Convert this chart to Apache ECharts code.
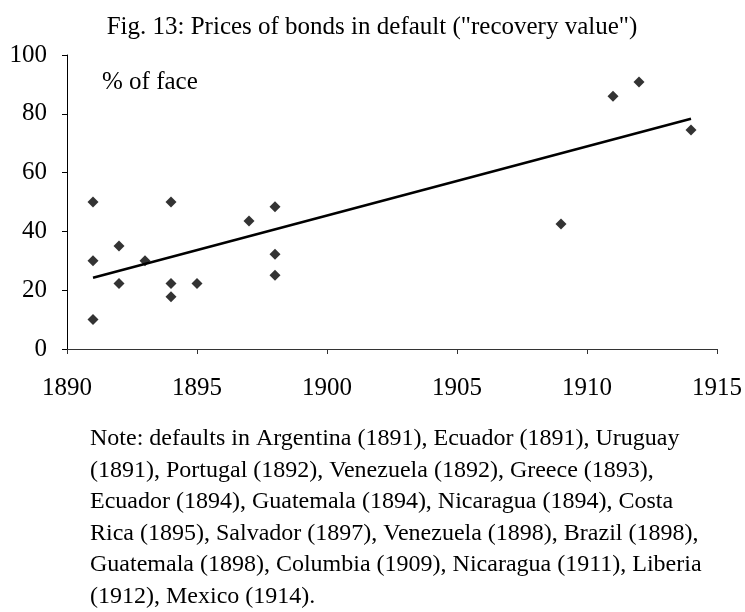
<!DOCTYPE html>
<html>
<head>
<meta charset="utf-8">
<script src="https://cdn.jsdelivr.net/npm/echarts@6/dist/echarts.min.js"></script>
<style>
  html, body { margin: 0; padding: 0; background: #fff; }
  #chart { width: 745px; height: 612px; }
</style>
</head>
<body>
<div id="chart"></div>
<script>
// default years and recovery prices (% of face)
var years = [1891, 1891, 1891, 1892, 1892, 1893, 1894, 1894, 1894, 1895, 1897, 1898, 1898, 1898, 1909, 1911, 1912, 1914];
var prices = [50, 30, 10, 35, 22.3, 30, 50, 22.3, 17.8, 22.3, 43.5, 48.4, 32.2, 25.1, 42.5, 86, 90.8, 74.5];
var xTicks = [1890, 1895, 1900, 1905, 1910, 1915];
var yTicks = [0, 20, 40, 60, 80, 100];
var noteLines = [
    'Note: defaults in Argentina (1891), Ecuador (1891), Uruguay',
    '(1891), Portugal (1892), Venezuela (1892), Greece (1893),',
    'Ecuador (1894), Guatemala (1894), Nicaragua (1894), Costa',
    'Rica (1895), Salvador (1897), Venezuela (1898), Brazil (1898),',
    'Guatemala (1898), Columbia (1909), Nicaragua (1911), Liberia',
    '(1912), Mexico (1914).'
];

var points = years.map(function (y, i) { return [y, prices[i]]; });

// least squares trend line over the observed range
function trend(xs, ys) {
    var n = xs.length, mx = 0, my = 0, sxx = 0, sxy = 0;
    for (var i = 0; i < n; i++) { mx += xs[i]; my += ys[i]; }
    mx /= n; my /= n;
    for (var j = 0; j < n; j++) {
        sxx += (xs[j] - mx) * (xs[j] - mx);
        sxy += (xs[j] - mx) * (ys[j] - my);
    }
    var b = sxy / sxx, a = my - b * mx;
    var x0 = Math.min.apply(null, xs), x1 = Math.max.apply(null, xs);
    return [[x0, a + b * x0], [x1, a + b * x1]];
}

var font = 'Liberation Serif';
var chart = echarts.init(document.getElementById('chart'));

chart.setOption({
    animation: false,
    title: {
        text: 'Fig. 13: Prices of bonds in default ("recovery value")',
        left: 367,
        textAlign: 'center',
        top: 10,
        textStyle: { fontFamily: font, fontSize: 25, fontWeight: 'normal', color: '#000' }
    },
    grid: { left: 67, right: 28, top: 55, bottom: 263 },
    xAxis: {
        type: 'value',
        min: xTicks[0],
        max: xTicks[xTicks.length - 1],
        interval: 5,
        axisLine: { lineStyle: { color: '#333', width: 1 } },
        axisTick: { length: 5, lineStyle: { color: '#333' } },
        splitLine: { show: false },
        axisLabel: {
            margin: 27, fontFamily: font, fontSize: 25, color: '#000',
            formatter: function (v) { return String(v); }
        }
    },
    yAxis: {
        type: 'value',
        min: yTicks[0],
        max: yTicks[yTicks.length - 1],
        interval: 20,
        axisLine: { show: true, lineStyle: { color: '#000', width: 1 } },
        axisTick: { show: true, length: 5, lineStyle: { color: '#000' } },
        splitLine: { show: false },
        axisLabel: { margin: 20, fontFamily: font, fontSize: 25, color: '#000' }
    },
    graphic: [
        {
            type: 'text', left: 102, top: 70,
            style: { text: '% of face', font: '25px "Liberation Serif"', fill: '#000' }
        },
        {
            type: 'text', left: 90, top: 423,
            style: { text: noteLines.join('\n'), font: '24px "Liberation Serif"', lineHeight: 31.5, fill: '#000' }
        }
    ],
    series: [
        {
            type: 'line',
            data: trend(years, prices),
            symbol: 'none',
            lineStyle: { color: '#000', width: 2.5 },
            z: 2
        },
        {
            type: 'scatter',
            data: points,
            symbol: 'diamond',
            symbolSize: 11,
            itemStyle: { color: '#000' },
            z: 3
        }
    ]
});
</script>
</body>
</html>
